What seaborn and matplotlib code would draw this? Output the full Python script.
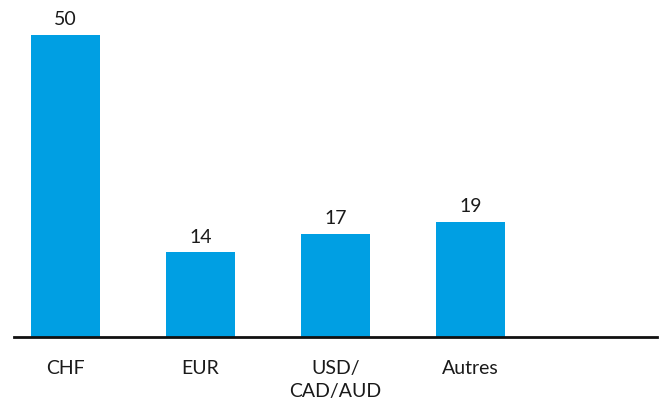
import matplotlib
matplotlib.use("Agg")
import matplotlib.pyplot as plt
import seaborn as sns
import pandas as pd

categories = ["CHF", "EUR", "USD/\nCAD/AUD", "Autres"]
values = [50, 14, 17, 19]

bar_color = "#009FE3"

sns.set_theme(style="white")
plt.rcParams["font.family"] = ["Lato", "DejaVu Sans"]

df = pd.DataFrame({"devise": categories, "part": values})

fig = plt.figure(figsize=(6.65, 4.01), dpi=100)
ax = fig.add_axes([14 / 665, 64 / 401, 643 / 665, 337 / 401])

sns.barplot(data=df, x="devise", y="part", color=bar_color, width=0.511,
            saturation=1, linewidth=0, ax=ax)

for patch, v in zip(ax.patches, values):
    ax.annotate(f"{v}", (patch.get_x() + patch.get_width() / 2, patch.get_height()),
                xytext=(0, 5), textcoords="offset points", ha="center", va="bottom",
                fontsize=14, color="#1a1a1a")

ax.set_xlim(-0.381, 4.381)
ax.set_ylim(0, 55.8)
ax.set_xlabel("")
ax.set_ylabel("")
ax.set_yticks([])
for side in ["top", "right", "left"]:
    ax.spines[side].set_visible(False)
ax.spines["bottom"].set_color("#111111")
ax.spines["bottom"].set_linewidth(2)
ax.tick_params(axis="x", length=0, pad=16.5, labelsize=14, labelcolor="#1a1a1a")
for lbl in ax.get_xticklabels():
    lbl.set_verticalalignment("top")
    lbl.set_linespacing(1.45)

fig.savefig("out.png", dpi=100)
